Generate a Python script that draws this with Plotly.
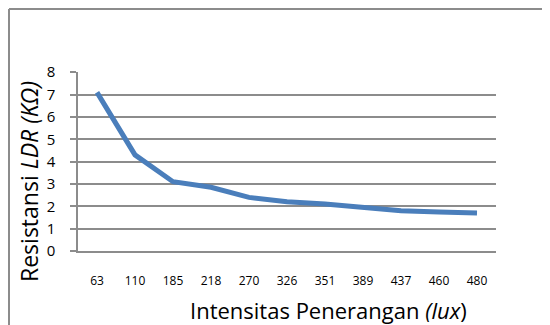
import plotly.graph_objects as go

categories = ["63", "110", "185", "218", "270", "326", "351", "389", "437", "460", "480"]
resistance = [7.1, 4.3, 3.1, 2.85, 2.4, 2.2, 2.1, 1.95, 1.8, 1.75, 1.7]
y_ticks = [0, 1, 2, 3, 4, 5, 6, 7, 8]

FONT = "Open Sans"
GRID = "#8c8c8c"

# plot area in figure pixels (page has an 8px body margin)
L, R, T, B = 70, 488, 64, 243
W, H = 550, 325
PW, PH = R - L, B - T

fig = go.Figure()
fig.add_trace(go.Scatter(
    x=categories, y=resistance, mode="lines",
    line=dict(color="#4a7ebb", width=5),
    showlegend=False,
))

fig.update_layout(
    width=W, height=H,
    margin=dict(l=L, r=W - R, t=T, b=H - B, autoexpand=False),
    paper_bgcolor="white", plot_bgcolor="white",
    font=dict(family=FONT, color="black"),
    xaxis=dict(
        type="category", range=[-0.5, len(categories) - 0.5],
        showgrid=False, showline=True, linecolor=GRID, linewidth=1.5, zeroline=False,
        tickfont=dict(size=12, family=FONT), ticks="", ticklabelstandoff=18,
    ),
    yaxis=dict(
        range=[0, 8.01], tickvals=y_ticks, showgrid=True, gridcolor=GRID, gridwidth=1.5,
        showline=True, linecolor=GRID, linewidth=1.5, zeroline=False,
        ticks="outside", ticklen=6, tickcolor=GRID, tickwidth=1.5,
        tickfont=dict(size=15, family=FONT), ticklabelstandoff=12,
    ),
)

# Chart frame (outer border)
fx = (1 - L) / PW
fy = 1 + (T - 1) / PH
fig.add_shape(type="line", xref="paper", yref="paper",
              x0=fx, x1=1 + (W - R) / PW, y0=fy, y1=fy,
              line=dict(color=GRID, width=2))
fig.add_shape(type="line", xref="paper", yref="paper",
              x0=fx, x1=fx, y0=fy, y1=-(H - B) / PH,
              line=dict(color=GRID, width=2))

fig.add_annotation(
    text="Resistansi <i>LDR (KΩ)</i>", textangle=-90,
    xref="paper", yref="paper", x=(21 - L) / PW, y=(B - 174) / PH,
    xanchor="center", yanchor="middle", showarrow=False,
    font=dict(size=23, family=FONT),
)
fig.add_annotation(
    text="Intensitas Penerangan <i>(lux</i>)",
    xref="paper", yref="paper", x=(320 - L) / PW, y=(B - 302) / PH,
    xanchor="center", yanchor="middle", showarrow=False,
    font=dict(size=22, family=FONT),
)

fig.write_html("out.html")
